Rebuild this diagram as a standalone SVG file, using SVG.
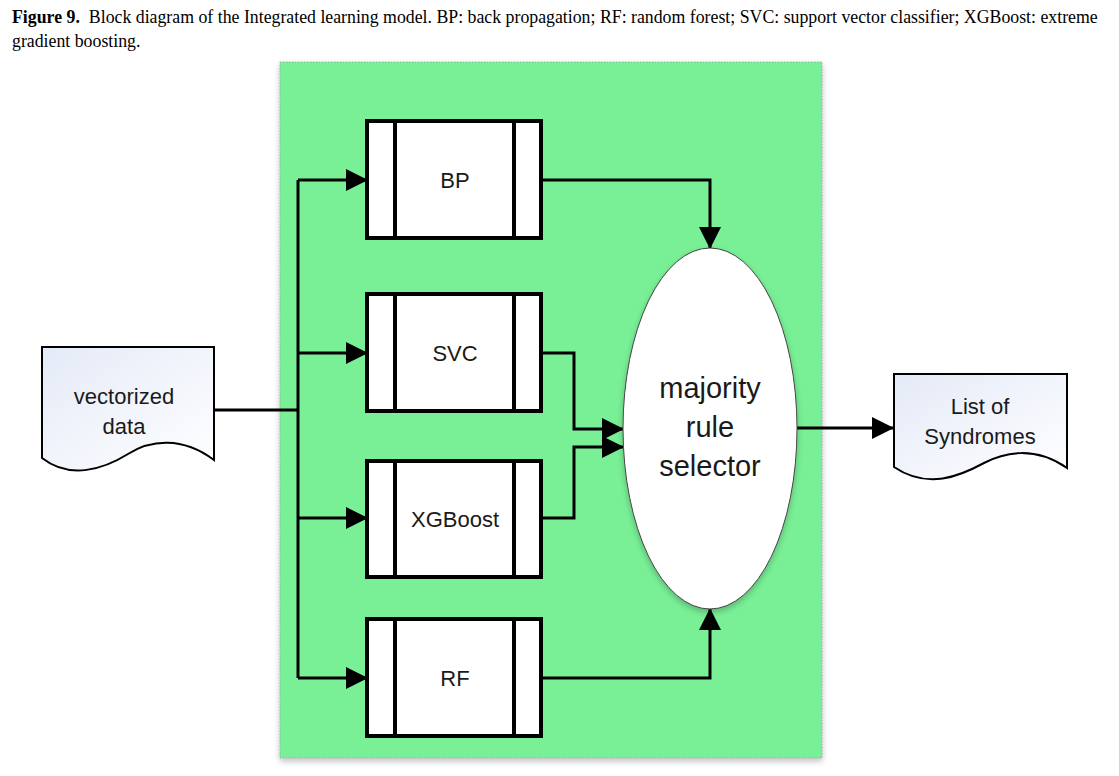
<svg xmlns="http://www.w3.org/2000/svg" width="1119" height="776" viewBox="0 0 1119 776">
<style>
.cap{font-family:"Liberation Serif","Times New Roman",serif;font-size:17.8px;fill:#000}
.lbl{font-family:"Liberation Sans",Arial,sans-serif;font-size:22px;fill:#1a1a1a;text-anchor:middle}
.big{font-family:"Liberation Sans",Arial,sans-serif;font-size:29px;fill:#1a1a1a;text-anchor:middle}
.box{fill:#fff;stroke:#000;stroke-width:4}
.div{stroke:#000;stroke-width:4;fill:none}
.con{fill:none;stroke:#000;stroke-width:3}
.doc{fill:url(#docg);stroke:#000;stroke-width:2}
</style>
<defs>
<linearGradient id="docg" x1="0" y1="0" x2="1" y2="1">
<stop offset="0" stop-color="#e4eaf7"/>
<stop offset="1" stop-color="#ffffff"/>
</linearGradient>
<marker id="ah" viewBox="0 0 22 22" refX="21" refY="11" markerWidth="22" markerHeight="22" markerUnits="userSpaceOnUse" orient="auto">
<path d="M0,0 L22,11 L0,22 Z" fill="#000"/>
</marker>
<filter id="sh" x="-20%" y="-20%" width="140%" height="140%">
<feGaussianBlur in="SourceAlpha" stdDeviation="3"/>
<feOffset dx="0" dy="3"/>
<feComponentTransfer><feFuncA type="linear" slope="0.25"/></feComponentTransfer>
<feMerge><feMergeNode/><feMergeNode in="SourceGraphic"/></feMerge>
</filter>
</defs>
<rect width="1119" height="776" fill="#fff"/>
<g id="caption">
<text class="cap" x="12" y="23"><tspan font-weight="bold">Figure 9.</tspan><tspan dx="9">Block diagram of the Integrated learning model. BP: back propagation; RF: random forest; SVC: support vector classifier; XGBoost: extreme</tspan></text>
<text class="cap" x="12" y="47">gradient boosting.</text>
</g>
<g id="panel">
<rect x="280" y="62" width="542" height="696" fill="#79f096" stroke="#9aa" stroke-width="1" stroke-dasharray="1.5,1.5" filter="url(#sh)"/>
</g>
<g id="connectors">
<polyline class="con" points="212,410 298,410"/>
<polyline class="con" points="298,180 298,678"/>
<polyline class="con" points="298,180 367,180" marker-end="url(#ah)"/>
<polyline class="con" points="298,353 367,353" marker-end="url(#ah)"/>
<polyline class="con" points="298,518 367,518" marker-end="url(#ah)"/>
<polyline class="con" points="298,678 367,678" marker-end="url(#ah)"/>
<polyline class="con" points="541,180 710,180 710,248" marker-end="url(#ah)"/>
<polyline class="con" points="541,353 574,353 574,429 623,429" marker-end="url(#ah)"/>
<polyline class="con" points="541,518 574,518 574,447 623,447" marker-end="url(#ah)"/>
<polyline class="con" points="541,678 710,678 710,609" marker-end="url(#ah)"/>
<polyline class="con" points="797,428 893,428" marker-end="url(#ah)"/>
</g>
<g id="input">
<path class="doc" d="M42,347 H214 V460 C182,436 150,440 128,454 C104,469 70,480 42,458 Z"/>
<text class="lbl" x="124" y="404">vectorized</text>
<text class="lbl" x="124" y="434">data</text>
</g>
<g id="bp">
<rect class="box" x="367" y="121" width="174" height="117"/>
<path class="div" d="M395,121 V238 M514,121 V238"/>
<text class="lbl" x="455" y="188">BP</text>
</g>
<g id="svc">
<rect class="box" x="367" y="294" width="174" height="117"/>
<path class="div" d="M395,294 V411 M514,294 V411"/>
<text class="lbl" x="455" y="361">SVC</text>
</g>
<g id="xgboost">
<rect class="box" x="367" y="461" width="174" height="116"/>
<path class="div" d="M395,461 V577 M514,461 V577"/>
<text class="lbl" x="455" y="527">XGBoost</text>
</g>
<g id="rf">
<rect class="box" x="367" y="619" width="174" height="117"/>
<path class="div" d="M395,619 V736 M514,619 V736"/>
<text class="lbl" x="455" y="686">RF</text>
</g>
<g id="selector">
<ellipse cx="710" cy="428.5" rx="87" ry="180.5" fill="#fff" stroke="#444" stroke-width="1" filter="url(#sh)"/>
<text class="big" x="710" y="398">majority</text>
<text class="big" x="710" y="437">rule</text>
<text class="big" x="710" y="476">selector</text>
</g>
<g id="output">
<path class="doc" d="M894,374 H1067 V468 C1035,446 1005,452 984,463 C960,476 928,490 894,467 Z"/>
<text class="lbl" x="980" y="414">List of</text>
<text class="lbl" x="980" y="444">Syndromes</text>
</g>
</svg>
